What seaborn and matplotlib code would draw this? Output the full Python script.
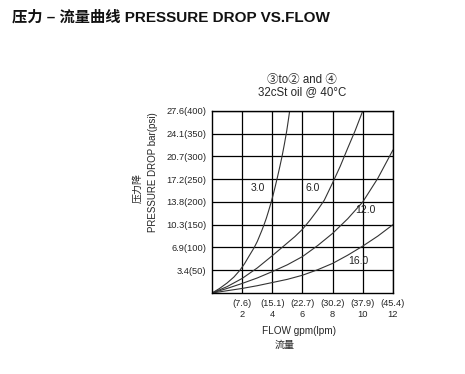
import pandas as pd
import matplotlib.pyplot as plt
import seaborn as sns

# curve data: flow in gpm, pressure drop in psi
c3_flow = [0, 0.5, 1.0, 1.45, 1.85, 2.15, 2.4, 2.6, 2.8, 3.0, 3.15, 3.3, 3.45, 3.6, 3.75, 3.9,
           4.05, 4.2, 4.35, 4.5, 4.65, 4.8, 4.95, 5.05, 5.15]
c3_psi = [0, 10, 22, 35, 50, 64, 78, 89, 100, 113, 125, 137, 150, 164, 180, 197,
          215, 235, 256, 278, 301, 327, 355, 377, 400]

c6_flow = [0, 1, 2, 3, 4, 5, 5.5, 6, 6.5, 7, 7.45, 8, 8.5, 9, 9.5, 10]
c6_psi = [0, 14, 32, 55, 82, 110, 124, 140, 160, 182, 204, 242, 278, 318, 357, 400]

c12_flow = [0, 1, 2, 3, 4, 5, 6, 7, 8, 9, 10, 11, 12]
c12_psi = [0, 10, 21, 33, 47, 62, 80, 104, 131, 163, 200, 252, 314]

c16_flow = [0, 1, 2, 3, 4, 5, 6, 7, 8, 9, 10, 11, 12]
c16_psi = [0, 5, 10, 16, 23, 30, 39, 51, 65, 83, 103, 125, 150]

curve_names = ["3.0", "6.0", "12.0", "16.0"]
label_pos = [(3.05, 231), (6.7, 231), (10.2, 182), (9.7, 70)]

x_ticks = [2, 4, 6, 8, 10, 12]
x_labels = ["(7.6)\n2", "(15.1)\n4", "(22.7)\n6", "(30.2)\n8", "(37.9)\n10", "(45.4)\n12"]
y_ticks = [50, 100, 150, 200, 250, 300, 350, 400]
y_labels = ["3.4(50)", "6.9(100)", "10.3(150)", "13.8(200)",
            "17.2(250)", "20.7(300)", "24.1(350)", "27.6(400)"]

sns.set_style("white")
plt.rcParams['font.family'] = ['Liberation Sans', 'Noto Sans CJK SC', 'DejaVu Sans']

fig = plt.figure(figsize=(4.65, 3.74), dpi=100)
ax = fig.add_axes([0.456, 0.2166, 0.389, 0.487])

curves = [(c3_flow, c3_psi), (c6_flow, c6_psi), (c12_flow, c12_psi), (c16_flow, c16_psi)]
for (fx, fy), name in zip(curves, curve_names):
    df = pd.DataFrame({"flow": fx, "psi": fy})
    sns.lineplot(data=df, x="flow", y="psi", ax=ax, color="#333333",
                 linewidth=0.8, sort=False, estimator=None)

for name, (lx, ly) in zip(curve_names, label_pos):
    ax.text(lx, ly, name, fontsize=7.5, ha="center", va="center", color="#222222")

ax.set_xlim(0, 12)
ax.set_ylim(0, 400)
ax.set_xticks(x_ticks)
ax.set_xticklabels(x_labels, fontsize=6.7, linespacing=1.3)
ax.set_yticks(y_ticks)
ax.set_yticklabels(y_labels, fontsize=6.7)
ax.tick_params(length=0, pad=4)
ax.grid(True, color="black", linewidth=0.9)
for s in ax.spines.values():
    s.set_color("black")
    s.set_linewidth(1.0)
ax.set_xlabel("")
ax.set_ylabel("")

# axis titles
fig.text(0.643, 0.115, "FLOW gpm(lpm)", fontsize=7.2, ha="center", va="center")
fig.text(0.613, 0.077, "流量", fontsize=7.2, ha="center", va="center")
fig.text(0.33, 0.541, "PRESSURE DROP bar(psi)", fontsize=7.0, rotation=90,
         ha="center", va="center")
fig.text(0.296, 0.498, "压力降", fontsize=7.2, rotation=90, ha="center", va="center")

# chart subtitle
fig.text(0.65, 0.786, "③to② and ④", fontsize=8.3, ha="center", va="center")
fig.text(0.65, 0.753, "32cSt oil @ 40°C", fontsize=8.3, ha="center", va="center")

# page title
fig.text(0.025, 0.954, "压力 – 流量曲线 PRESSURE DROP VS.FLOW", fontsize=11,
         fontweight="bold", ha="left", va="center", color="#111111")

fig.savefig("out.png", dpi=100)
